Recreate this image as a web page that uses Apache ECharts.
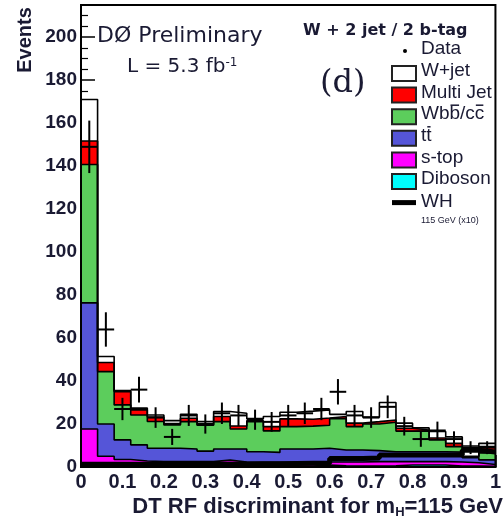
<!DOCTYPE html>
<html>
<head>
<meta charset="utf-8">
<script src="https://cdn.jsdelivr.net/npm/echarts@6/dist/echarts.min.js"></script>
<style>
  html, body { margin: 0; padding: 0; background: #fff; }
  #chart { width: 504px; height: 521px; }
</style>
</head>
<body>
<div id="chart"></div>
<script>
// Histogram binning of the discriminant: 25 bins of width 0.04 on [0, 1]
const BIN_WIDTH = 0.04;
const N_BINS = 25;

// Background components, events per bin (stacked bottom to top)
const diboson  = [0.5, 0.3, 0.3, 0.3, 0.3, 0.3, 0.3, 0.3, 0.3, 0.3, 0.3, 0.4, 0.4, 0.4, 0.9, 0.6, 0.5, 0.5, 0.6, 0.9, 0.9, 0.9, 0.5, 0.5, 0.3];
const sTop     = [17.2, 4.7, 3.2, 2.5, 2.2, 2.2, 2.2, 2.2, 2.9, 2.0, 1.9, 1.8, 1.8, 1.8, 1.4, 1.7, 1.8, 2.0, 1.9, 1.6, 1.6, 1.6, 1.8, 1.5, 0.9];
const ttbar    = [58.7, 15.0, 9.1, 7.5, 6.2, 6.2, 5.9, 4.9, 5.2, 6.1, 4.9, 4.6, 6.2, 6.2, 6.4, 5.6, 5.6, 5.1, 4.6, 4.6, 4.6, 4.6, 4.6, 2.3, 2.1];
const wbbCc    = [64.4, 24.4, 16.3, 13.9, 12.5, 10.9, 12.7, 12.0, 12.7, 9.3, 14.0, 10.0, 10.4, 10.6, 10.7, 14.6, 10.9, 12.4, 13.7, 9.6, 9.7, 5.5, 2.6, 0.3, 3.2];
const multiJet = [10.9, 4.2, 6.2, 2.4, 2.1, 0.6, 1.6, 0.4, 2.4, 1.4, 0.4, 2.0, 3.6, 3.2, 3.4, 1.0, 1.6, 1.1, 1.1, 1.3, 0.4, 0.9, 1.5, 0.4, 3.0];
const wJet     = [19.3, 2.8, 0.5, 0.8, 0.9, 1.4, 1.8, 1.3, 2.3, 5.9, 1.0, 4.7, 3.1, 3.8, 3.8, 1.0, 5.4, 2.1, 8.1, 2.4, 1.0, 3.0, 3.0, 4.8, 1.5];

// WH signal (115 GeV), scaled by 10
const whSignal = [1.3, 1.3, 1.3, 1.3, 1.3, 1.3, 1.3, 1.3, 1.3, 1.4, 1.5, 1.5, 1.6, 1.7, 1.8, 4.0, 4.0, 4.2, 5.6, 5.6, 5.6, 5.6, 5.6, 7.8, 7.0];

// Observed events per bin
const dataCounts = [149, 64, 27, 36, 23, 14, 24, 20, 25, 24, 22, 21, 24, 25, 27, 35, 24, 23, 28, 19, 13, 17, 13, 9, 9];

// Axis tick labels
const xTickLabels = ['0', '0.1', '0.2', '0.3', '0.4', '0.5', '0.6', '0.7', '0.8', '0.9', '1'];
const yTickLabels = [0, 20, 40, 60, 80, 100, 120, 140, 160, 180, 200];

const TEXT = '#1a1a33';
const SANS = '"Liberation Sans", Arial, sans-serif';
const LEGEND_FONT = '19px ' + SANS;

const components = [
  { name: 'Diboson',   values: diboson,  color: '#00ffff' },
  { name: 's-top',     values: sTop,     color: '#ff00ff' },
  { name: 'ttbar',     values: ttbar,    color: '#5555d8' },
  { name: 'Wbb/cc',    values: wbbCc,    color: '#5ccd5c' },
  { name: 'Multi Jet', values: multiJet, color: '#ff0000' },
  { name: 'W+jet',     values: wJet,     color: '#ffffff' }
];

// Cumulative heights of the stack
let running = new Array(N_BINS).fill(0);
const layers = components.map(c => {
  running = running.map((r, i) => r + c.values[i]);
  return Object.assign({}, c, { tops: running.slice() });
});

// Points at the lower bin edges plus the closing edge, drawn as a step
function stepPoints(values) {
  const pts = values.map((v, i) => [i * BIN_WIDTH, v]);
  pts.push([N_BINS * BIN_WIDTH, values[values.length - 1]]);
  return pts;
}

// Tallest cumulative layer first so each lower one paints over it
const stackSeries = layers.slice().reverse().map(l => ({
  type: 'line',
  name: l.name,
  step: 'end',
  data: stepPoints(l.tops),
  symbol: 'none',
  silent: true,
  z: 2,
  itemStyle: { color: l.color },
  lineStyle: { color: '#000', width: 1.6 },
  areaStyle: { color: l.color, opacity: 1 }
}));

const whSeries = {
  type: 'line',
  name: 'WH',
  step: 'end',
  data: stepPoints(whSignal),
  symbol: 'none',
  silent: true,
  z: 3,
  lineStyle: { color: '#000', width: 5 }
};

const dataSeries = {
  type: 'custom',
  name: 'Data',
  z: 4,
  silent: true,
  encode: { x: 0, y: 1 },
  data: dataCounts.map((n, i) => [(i + 0.5) * BIN_WIDTH, n, Math.sqrt(n)]),
  renderItem: (params, api) => {
    const xc = api.value(0), n = api.value(1), e = api.value(2);
    const l = api.coord([xc - BIN_WIDTH / 2, n]);
    const r = api.coord([xc + BIN_WIDTH / 2, n]);
    const t = api.coord([xc, n + e]);
    const b = api.coord([xc, Math.max(0, n - e)]);
    const st = { stroke: '#000', lineWidth: 2 };
    return {
      type: 'group',
      children: [
        { type: 'line', shape: { x1: l[0], y1: l[1], x2: r[0], y2: r[1] }, style: st },
        { type: 'line', shape: { x1: t[0], y1: t[1], x2: b[0], y2: b[1] }, style: st }
      ]
    };
  }
};

// Text widths, used to place the anti-quark bars over legend labels
const measureCtx = document.createElement('canvas').getContext('2d');
measureCtx.font = LEGEND_FONT;
const textWidth = s => measureCtx.measureText(s).width;

// Legend, drawn as graphic elements
const legendX = 392, legendTop = 66, legendPitch = 21.6;
const textX = legendX + 29;
const legendBoxes = [
  { label: 'W+jet',     color: '#ffffff' },
  { label: 'Multi Jet', color: '#ff0000' },
  { label: 'Wbb/cc',    color: '#5ccd5c', bars: [['Wb', 'Wbb'], ['Wbb/c', 'Wbb/cc']] },
  { label: 'tt',        color: '#5555d8', bars: [['t', 'tt']] },
  { label: 's-top',     color: '#ff00ff' },
  { label: 'Diboson',   color: '#00ffff' }
];
const legendGraphics = [];
legendBoxes.forEach((item, k) => {
  const y = legendTop + k * legendPitch;
  legendGraphics.push({
    type: 'rect', shape: { x: legendX, y: y, width: 24, height: 15 },
    style: { fill: item.color, stroke: '#222', lineWidth: 2 }
  });
  legendGraphics.push({
    type: 'text', x: textX, y: y + 5,
    style: { text: item.label, font: LEGEND_FONT, fill: TEXT, verticalAlign: 'middle' }
  });
  (item.bars || []).forEach(([from, to]) => {
    const x1 = textX + textWidth(from) + 1, x2 = textX + textWidth(to) - 1;
    legendGraphics.push({
      type: 'line', shape: { x1: x1, y1: y - 4, x2: x2, y2: y - 4 },
      style: { stroke: TEXT, lineWidth: 1.5 }
    });
  });
});
const whY = legendTop + 6 * legendPitch + 7;
legendGraphics.push(
  { type: 'circle', shape: { cx: 405, cy: 51, r: 2 }, style: { fill: '#000' } },
  { type: 'text', x: textX, y: 49,
    style: { text: 'Data', font: LEGEND_FONT, fill: TEXT, verticalAlign: 'middle' } },
  { type: 'line', shape: { x1: legendX, y1: whY, x2: legendX + 24, y2: whY },
    style: { stroke: '#000', lineWidth: 5 } },
  { type: 'text', x: textX, y: whY - 1,
    style: { text: 'WH', font: LEGEND_FONT, fill: TEXT, verticalAlign: 'middle' } },
  { type: 'text', x: textX, y: whY + 18,
    style: { text: '115 GeV (x10)', font: '9px ' + SANS, fill: TEXT, verticalAlign: 'middle' } }
);

const option = {
  animation: false,
  backgroundColor: '#fff',
  grid: {
    left: 81, right: 3, top: 5, bottom: 54,
    show: true, z: 10,
    borderColor: '#000', borderWidth: 2, backgroundColor: 'transparent'
  },
  xAxis: {
    type: 'value', min: 0, max: 1, interval: 0.1,
    axisLine: { lineStyle: { color: '#000', width: 2 } },
    axisTick: { inside: true, length: 12, lineStyle: { color: '#000', width: 1.5 } },
    minorTick: { show: true, splitNumber: 5, length: 6, lineStyle: { color: '#000', width: 1.2 } },
    splitLine: { show: false },
    axisLabel: {
      margin: 5, color: TEXT, fontSize: 20, fontWeight: 'bold', fontFamily: SANS,
      formatter: v => xTickLabels[Math.round(v * 10)]
    }
  },
  yAxis: {
    type: 'value', min: 0, max: 215, interval: 20,
    axisLine: { lineStyle: { color: '#000', width: 2 } },
    axisTick: { inside: true, length: 14, lineStyle: { color: '#000', width: 1.5 } },
    minorTick: { show: true, splitNumber: 4, length: 7, lineStyle: { color: '#000', width: 1.2 } },
    splitLine: { show: false },
    axisLabel: {
      margin: 4, color: TEXT, fontSize: 19, fontWeight: 'bold', fontFamily: SANS,
      formatter: v => (yTickLabels.indexOf(v) >= 0 ? String(v) : '')
    }
  },
  graphic: [
    { type: 'text', x: 25, y: 40, rotation: Math.PI / 2,
      style: { text: 'Events', font: 'bold 20px ' + SANS, fill: TEXT, align: 'center', verticalAlign: 'middle' } },
    { type: 'text', x: 97, y: 36,
      style: { text: 'D\u00d8 Preliminary', font: '22px "DejaVu Sans", sans-serif', fill: TEXT, verticalAlign: 'middle' } },
    { type: 'text', x: 127, y: 67,
      style: {
        text: '{a|L = 5.3 fb}{s|-1}', fill: TEXT, verticalAlign: 'middle',
        rich: {
          a: { fontSize: 20, fontFamily: '"DejaVu Sans", sans-serif', fill: TEXT, verticalAlign: 'bottom' },
          s: { fontSize: 12, fontFamily: '"DejaVu Sans", sans-serif', fill: TEXT, verticalAlign: 'top' }
        }
      } },
    { type: 'text', x: 320, y: 84,
      style: { text: '(d)', font: '32px "DejaVu Serif", serif', fill: TEXT, verticalAlign: 'middle' } },
    { type: 'text', x: 303, y: 31,
      style: { text: 'W + 2 jet / 2 b-tag', font: 'bold 16px "DejaVu Sans", sans-serif', fill: TEXT, verticalAlign: 'middle' } },
    { type: 'text', x: 503, y: 507,
      style: {
        text: '{a|DT RF discriminant for m}{b|H}{a|=115 GeV}', align: 'right', verticalAlign: 'middle',
        rich: {
          a: { fontSize: 22, fontWeight: 'bold', fontFamily: SANS, fill: TEXT },
          b: { fontSize: 13, fontWeight: 'bold', fontFamily: SANS, fill: TEXT, padding: [10, 0, 0, 0] }
        }
      } }
  ].concat(legendGraphics),
  series: stackSeries.concat([whSeries, dataSeries])
};

const chart = echarts.init(document.getElementById('chart'), null, { renderer: 'canvas' });
chart.setOption(option);
</script>
</body>
</html>
